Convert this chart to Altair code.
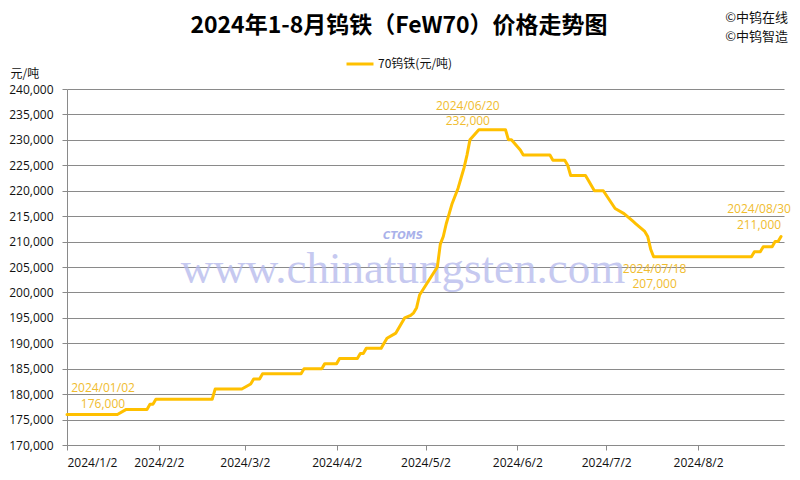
import altair as alt
import pandas as pd

# ---------------- data ----------------
dates = [
    "2024-01-02", "2024-01-19", "2024-01-22", "2024-01-29", "2024-01-30", "2024-01-31",
    "2024-02-01", "2024-02-20", "2024-02-21", "2024-03-01", "2024-03-04", "2024-03-05",
    "2024-03-07", "2024-03-08", "2024-03-21", "2024-03-22", "2024-03-28", "2024-03-29",
    "2024-04-02", "2024-04-03", "2024-04-09", "2024-04-10", "2024-04-11", "2024-04-12",
    "2024-04-17", "2024-04-18", "2024-04-19", "2024-04-22", "2024-04-25", "2024-04-27",
    "2024-04-28", "2024-04-29", "2024-04-30", "2024-05-06", "2024-05-07", "2024-05-08",
    "2024-05-09", "2024-05-10", "2024-05-11", "2024-05-13", "2024-05-14", "2024-05-15",
    "2024-05-16", "2024-05-17", "2024-05-20", "2024-05-29", "2024-05-30", "2024-05-31",
    "2024-06-03", "2024-06-04", "2024-06-13", "2024-06-14", "2024-06-18", "2024-06-19",
    "2024-06-20", "2024-06-25", "2024-06-26", "2024-06-28", "2024-07-01", "2024-07-05",
    "2024-07-08", "2024-07-09", "2024-07-10", "2024-07-11", "2024-07-12", "2024-07-15",
    "2024-07-16", "2024-07-17", "2024-07-18", "2024-08-20", "2024-08-21", "2024-08-23",
    "2024-08-24", "2024-08-27", "2024-08-28", "2024-08-29", "2024-08-30",
]
prices = [
    176000, 176000, 177000, 177000, 178000, 178000,
    179000, 179000, 181000, 181000, 182000, 183000,
    183000, 184000, 184000, 185000, 185000, 186000,
    186000, 187000, 187000, 188000, 188000, 189000,
    189000, 190000, 191000, 192000, 195000, 195500,
    196000, 197000, 199500, 205000, 209500, 211000,
    213500, 215500, 217500, 220500, 222500, 224500,
    227000, 230000, 232000, 232000, 230000, 230000,
    228000, 227000, 227000, 226000, 226000, 225000,
    223000, 223000, 222000, 220000, 220000, 216500,
    215500, 215000, 214500, 214000, 213500, 212000,
    211000, 208500, 207000, 207000, 208000, 208000,
    209000, 209000, 210000, 210000, 211000,
]

label_dates = ["2024-01-02", "2024-05-20", "2024-07-18", "2024-08-30"]
label_prices = [176000, 232000, 207000, 211000]
label_texts = ["2024/01/02", "2024/06/20", "2024/07/18", "2024/08/30"]

series_name = "70钨铁(元/吨)"
title_text = "2024年1-8月钨铁（FeW70）价格走势图"
copyright_lines = ["©中钨在线", "©中钨智造"]
watermark_text = "www.chinatungsten.com"
logo_text = "CTOMS"
y_unit = "元/吨"
y_ticks = list(range(170000, 240001, 5000))
x_tick_months = [1, 2, 3, 4, 5, 6, 7, 8]

# ---------------- styles ----------------
GOLD = "#FFC000"
LABEL_GOLD = "#F0BC2E"
GRAY = "#8A8A8A"
CJK = "Noto Sans CJK SC"
NUM = "Open Sans"
label_offsets = [(36, -31), (-11, -29), (1, 7), (-22, -32)]

df = pd.DataFrame({"date": pd.to_datetime(dates), "price": prices, "series": series_name})

x_enc = alt.X(
    "date:T",
    scale=alt.Scale(domain=[alt.DateTime(year=2024, month=1, date=2),
                            alt.DateTime(year=2024, month=8, date=31)]),
    axis=alt.Axis(
        values=[alt.DateTime(year=2024, month=m, date=2) for m in x_tick_months],
        tickCount=len(x_tick_months),
        format="%Y/%-m/%-d", title=None, grid=False, labelOverlap=False,
        labelFont=NUM, labelFontSize=12, labelColor="#111111",
        tickSize=5, tickColor=GRAY, domainColor=GRAY, labelPadding=7,
    ),
)
y_enc = alt.Y(
    "price:Q",
    scale=alt.Scale(domain=[170000, 240000], nice=False, zero=False),
    axis=alt.Axis(
        values=y_ticks, tickCount=len(y_ticks), format=",d",
        grid=True, gridColor=GRAY, gridWidth=1, labelOverlap=False,
        title=y_unit, titleAngle=0, titleX=-57, titleY=-16, titleAlign="left",
        titleBaseline="middle", titleFont=CJK, titleFontSize=12, titleFontWeight="normal",
        titleColor="#111111",
        labelFont=NUM, labelFontSize=12, labelColor="#111111",
        tickSize=5, tickColor=GRAY, domainColor=GRAY, labelPadding=9,
    ),
)

line = alt.Chart(df).mark_line(strokeWidth=3, strokeJoin="round", strokeCap="round").encode(
    x=x_enc,
    y=y_enc,
    color=alt.Color(
        "series:N",
        scale=alt.Scale(range=[GOLD]),
        legend=alt.Legend(
            title=None, orient="none", legendX=278, legendY=-40,
            symbolType="stroke", symbolSize=729, symbolStrokeWidth=3,
            labelFont=CJK, labelFontSize=12, labelColor="#111111", padding=0, labelOffset=3,
        ),
    ),
)

def text_layer(txt, x, y, **kw):
    return alt.Chart(pd.DataFrame({"t": [txt]})).mark_text(**kw).encode(
        x=alt.value(x), y=alt.value(y), text="t:N"
    )

watermark = text_layer(watermark_text, 336, 194, font="Liberation Serif", fontSize=45,
                       color="#B3B8EC", opacity=0.75, align="center", baseline="alphabetic")
logo = text_layer(logo_text, 336, 147, font="DejaVu Sans", fontSize=10, fontWeight="bold",
                  fontStyle="italic", color="#A9B1EA", align="center", baseline="middle")
title = text_layer(title_text, 332, -63, font=CJK, fontSize=23, fontWeight="bold",
                   color="#000000", align="center", baseline="middle")
copy1 = text_layer(copyright_lines[0], 721, -71, font=CJK, fontSize=13, color="#111111",
                   align="right", baseline="middle")
copy2 = text_layer(copyright_lines[1], 721, -52, font=CJK, fontSize=13, color="#111111",
                   align="right", baseline="middle")

labels = []
for i in range(len(label_dates)):
    ldf = pd.DataFrame({
        "date": [pd.to_datetime(label_dates[i])],
        "price": [label_prices[i]],
        "label": [label_texts[i] + "\n" + f"{label_prices[i]:,}"],
    })
    dx, dy = label_offsets[i]
    labels.append(
        alt.Chart(ldf).mark_text(
            dx=dx, dy=dy, align="center", baseline="top", lineBreak="\n", lineHeight=15.5,
            font=NUM, fontSize=12, color=LABEL_GOLD,
        ).encode(x="date:T", y="price:Q", text="label:N")
    )

chart = alt.layer(watermark, logo, line, *labels, title, copy1, copy2).properties(
    width=717, height=356,
    padding={"left": 59, "top": 81, "right": 8, "bottom": 27},
    autosize=alt.AutoSizeParams(type="none"),
    background="white",
).configure_view(stroke=None)

chart.save("out.html", embed_options={"renderer": "svg", "actions": False})
